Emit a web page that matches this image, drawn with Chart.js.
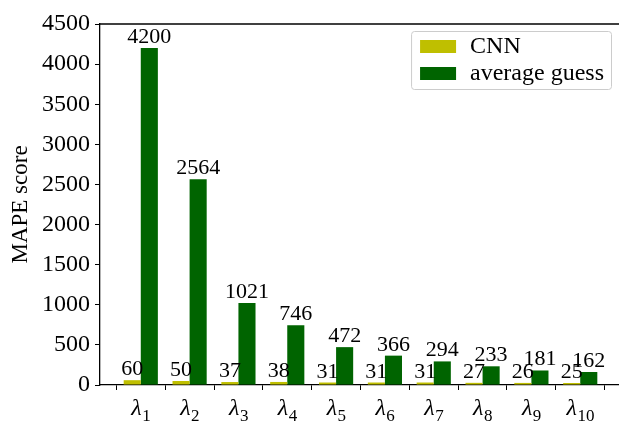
<!DOCTYPE html>
<html>
<head>
<meta charset="utf-8">
<script src="https://cdn.jsdelivr.net/npm/chart.js@4"></script>
<style>
  html, body { margin: 0; padding: 0; background: #fff; overflow: hidden; }
  #wrap { width: 626px; height: 423px; }
</style>
</head>
<body>
<div id="wrap"><canvas id="c" width="626" height="423"></canvas></div>
<script>
// ---- data ----
const xTickSymbol = 'λ';
const xTickSubscripts = ['1', '2', '3', '4', '5', '6', '7', '8', '9', '10'];
const cnnValues = [60, 50, 37, 38, 31, 31, 31, 27, 26, 25];
const avgGuessValues = [4200, 2564, 1021, 746, 472, 366, 294, 233, 181, 162];
const yTickValues = [0, 500, 1000, 1500, 2000, 2500, 3000, 3500, 4000, 4500];
const seriesNames = ['CNN', 'average guess'];
const yAxisTitle = 'MAPE score';

const SERIF = '"Liberation Serif", "Times New Roman", serif';
const colors = ['#bfbf00', '#006400'];

const positions = xTickSubscripts.map((_, i) => i);
const mk = vals => vals.map((v, i) => ({ x: positions[i], y: v }));

const topSpine = {
  id: 'topSpine',
  afterDraw(chart) {
    const { ctx, chartArea } = chart;
    ctx.save();
    ctx.strokeStyle = '#000';
    ctx.lineWidth = 1.3;
    ctx.beginPath();
    ctx.moveTo(chartArea.left, chartArea.top);
    ctx.lineTo(chartArea.right, chartArea.top);
    ctx.stroke();
    ctx.restore();
  }
};

const valueLabels = {
  id: 'valueLabels',
  afterDatasetsDraw(chart) {
    const { ctx } = chart;
    ctx.save();
    ctx.fillStyle = '#000';
    ctx.font = '22px ' + SERIF;
    ctx.textAlign = 'center';
    ctx.textBaseline = 'alphabetic';
    chart.data.datasets.forEach((ds, di) => {
      const meta = chart.getDatasetMeta(di);
      meta.data.forEach((bar, i) => {
        ctx.fillText(String(ds.data[i].y), bar.x, bar.y - 5);
      });
    });
    ctx.restore();
  }
};

const xLabels = {
  id: 'xLabels',
  afterDraw(chart) {
    const { ctx } = chart;
    const xs = chart.scales.x;
    const base = 414.5;
    ctx.save();
    ctx.fillStyle = '#000';
    ctx.textBaseline = 'alphabetic';
    xTickSubscripts.forEach((sub, i) => {
      const cx = xs.getPixelForValue(positions[i]);
      ctx.font = 'italic 24px ' + SERIF;
      const w1 = ctx.measureText(xTickSymbol).width;
      ctx.font = '17px ' + SERIF;
      const w2 = ctx.measureText(sub).width;
      const start = cx - (w1 + w2) / 2;
      ctx.font = 'italic 24px ' + SERIF;
      ctx.textAlign = 'left';
      ctx.fillText(xTickSymbol, start, base);
      ctx.font = '17px ' + SERIF;
      ctx.fillText(sub, start + w1 + 0.5, base + 6.5);
    });
    ctx.restore();
  }
};

const boxLegend = {
  id: 'boxLegend',
  afterDraw(chart) {
    const { ctx, chartArea } = chart;
    ctx.save();
    ctx.font = '24px ' + SERIF;
    const names = chart.data.datasets.map(d => d.label);
    const tw = Math.max(...names.map(n => ctx.measureText(n).width));
    const padL = 9, patchW = 36, patchH = 13, gap = 14, padR = 7, rowH = 27;
    const w = padL + patchW + gap + tw + padR;
    const h = 58;
    const right = chartArea.right - 10;
    const left = right - w;
    const top = chartArea.top + 7;
    ctx.fillStyle = 'rgba(255,255,255,0.8)';
    ctx.strokeStyle = '#cccccc';
    ctx.lineWidth = 1;
    ctx.beginPath();
    ctx.roundRect(left + 0.5, top + 0.5, w, h, 3);
    ctx.fill();
    ctx.stroke();
    chart.data.datasets.forEach((ds, i) => {
      const py = top + 9 + i * rowH;
      ctx.fillStyle = ds.backgroundColor;
      ctx.fillRect(left + padL, py, patchW, patchH);
      ctx.fillStyle = '#000';
      ctx.textAlign = 'left';
      ctx.textBaseline = 'alphabetic';
      ctx.fillText(ds.label, left + padL + patchW + gap, py + patchH);
    });
    ctx.restore();
  }
};

new Chart(document.getElementById('c'), {
  type: 'bar',
  data: {
    datasets: [
      { label: seriesNames[0], data: mk(cnnValues), backgroundColor: colors[0], borderWidth: 0,
        categoryPercentage: 0.7, barPercentage: 1.0 },
      { label: seriesNames[1], data: mk(avgGuessValues), backgroundColor: colors[1], borderWidth: 0,
        categoryPercentage: 0.7, barPercentage: 1.0 }
    ]
  },
  options: {
    responsive: false,
    animation: false,
    events: [],
    layout: { padding: { left: 0, top: 24, right: 5, bottom: 0 } },
    plugins: { legend: { display: false }, tooltip: { enabled: false } },
    scales: {
      x: {
        type: 'linear',
        min: -0.835,
        max: 9.835,
        offset: false,
        afterBuildTicks: s => { s.ticks = positions.map(v => ({ value: v })); },
        afterFit: s => { s.height = 38; },
        ticks: { display: false },
        grid: { display: true, drawOnChartArea: false, drawTicks: true, tickLength: 5, tickColor: '#000', tickWidth: 1 },
        border: { display: true, color: '#000', width: 1.3 }
      },
      y: {
        min: 0,
        max: 4500,
        afterBuildTicks: s => { s.ticks = yTickValues.map(v => ({ value: v })); },
        afterFit: s => { s.width = 100; },
        ticks: { color: '#000', font: { family: SERIF, size: 24 }, padding: 5, callback: v => String(v) },
        grid: { display: true, drawOnChartArea: false, drawTicks: true, tickLength: 5, tickColor: '#000', tickWidth: 1 },
        border: { display: true, color: '#000', width: 1.3 },
        title: { display: true, text: yAxisTitle, color: '#000', font: { family: SERIF, size: 23 }, padding: { top: 7, bottom: 0 } }
      }
    }
  },
  plugins: [topSpine, valueLabels, xLabels, boxLegend]
});
</script>
</body>
</html>
